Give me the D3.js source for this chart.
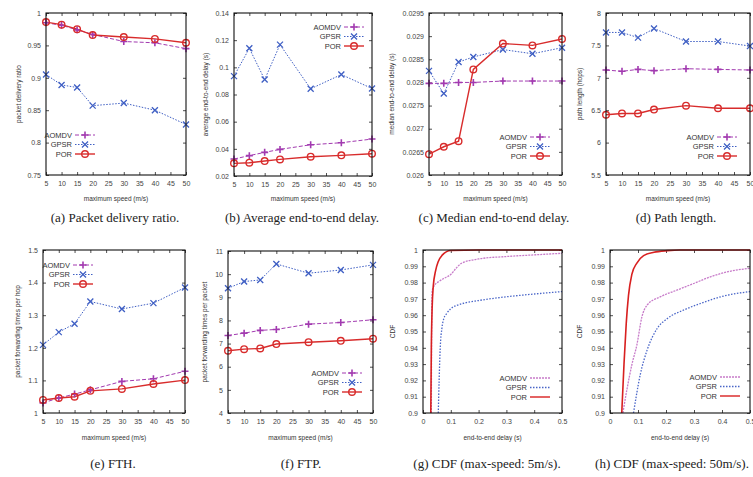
<!DOCTYPE html>
<html lang="en">
<head>
<meta charset="utf-8">
<title>POR vs AOMDV vs GPSR</title>
<script src="https://d3js.org/d3.v7.min.js"></script>
<style>
  body { margin: 0; background: #fff; }
  svg text { font-family: "Liberation Sans", Arial, sans-serif; fill: #333; }
  .caption { font-family: "Liberation Serif", "Times New Roman", serif; font-size: 13px; fill: #222; }
  .tick text { font-size: 7px; fill: #444; }
  .axtitle { font-size: 6.5px; fill: #333; }
  .legtext { font-size: 7.5px; fill: #333; }
</style>
</head>
<body>
<svg id="fig" width="753" height="477"></svg>
<script>
// --- data ---
var speeds = [5, 10, 15, 20, 30, 40, 50];
var speedTicks = [5, 10, 15, 20, 25, 30, 35, 40, 45, 50];
var protocols = ["AOMDV", "GPSR", "POR"];

// (a) packet delivery ratio
var pdrAOMDV = [0.985, 0.981, 0.974, 0.967, 0.956, 0.954, 0.945];
var pdrGPSR  = [0.905, 0.889, 0.885, 0.857, 0.861, 0.850, 0.828];
var pdrPOR   = [0.986, 0.982, 0.975, 0.966, 0.963, 0.960, 0.954];
var pdrTicks = [0.75, 0.8, 0.85, 0.9, 0.95, 1];

// (b) average end-to-end delay
var avgAOMDV = [0.0325, 0.035, 0.0374, 0.0396, 0.043, 0.0445, 0.0472];
var avgGPSR  = [0.0935, 0.114, 0.091, 0.1167, 0.0842, 0.0947, 0.0844];
var avgPOR   = [0.0293, 0.0298, 0.031, 0.0322, 0.0342, 0.0352, 0.0364];
var avgTicks = [0.02, 0.04, 0.06, 0.08, 0.1, 0.12, 0.14];

// (c) median end-to-end delay
var medAOMDV = [0.02798, 0.02798, 0.0280, 0.0280, 0.02803, 0.02803, 0.02803];
var medGPSR  = [0.02825, 0.02776, 0.02844, 0.02855, 0.02871, 0.02862, 0.02875];
var medPOR   = [0.02645, 0.02661, 0.02673, 0.02828, 0.02884, 0.0288, 0.02894];
var medTicks = [0.026, 0.0265, 0.027, 0.0275, 0.028, 0.0285, 0.029, 0.0295];

// (d) path length
var pathAOMDV = [7.12, 7.10, 7.13, 7.11, 7.14, 7.13, 7.12];
var pathGPSR  = [7.70, 7.70, 7.62, 7.76, 7.56, 7.56, 7.49];
var pathPOR   = [6.43, 6.45, 6.45, 6.51, 6.57, 6.53, 6.53];
var pathTicks = [5.5, 6, 6.5, 7, 7.5, 8];

// (e) FTH
var fthAOMDV = [1.031, 1.046, 1.058, 1.071, 1.097, 1.105, 1.128];
var fthGPSR  = [1.209, 1.248, 1.274, 1.342, 1.319, 1.337, 1.385];
var fthPOR   = [1.040, 1.046, 1.050, 1.068, 1.074, 1.089, 1.101];
var fthTicks = [1, 1.1, 1.2, 1.3, 1.4, 1.5];

// (f) FTP
var ftpAOMDV = [7.35, 7.45, 7.57, 7.61, 7.84, 7.91, 8.03];
var ftpGPSR  = [9.39, 9.68, 9.75, 10.44, 10.04, 10.18, 10.40];
var ftpPOR   = [6.69, 6.76, 6.79, 6.98, 7.06, 7.12, 7.21];
var ftpTicks = [4, 5, 6, 7, 8, 9, 10, 11];

// (g),(h) CDF of end-to-end delay, [delay, cdf]
var delayTicks = [0, 0.1, 0.2, 0.3, 0.4, 0.5];
var cdfTicks = [0.9, 0.91, 0.92, 0.93, 0.94, 0.95, 0.96, 0.97, 0.98, 0.99, 1];
var cdf5AOMDV = [[0.03,0.9],[0.031,0.95],[0.033,0.975],[0.04,0.978],[0.06,0.981],[0.08,0.983],[0.1,0.985],[0.12,0.989],[0.14,0.992],[0.2,0.9945],[0.3,0.996],[0.4,0.997],[0.5,0.998]];
var cdf5GPSR  = [[0.055,0.9],[0.058,0.92],[0.062,0.94],[0.068,0.952],[0.075,0.958],[0.085,0.961],[0.1,0.964],[0.13,0.9665],[0.15,0.9675],[0.2,0.969],[0.3,0.9713],[0.4,0.973],[0.5,0.9745]];
var cdf5POR   = [[0.028,0.9],[0.03,0.94],[0.033,0.965],[0.037,0.978],[0.045,0.987],[0.055,0.993],[0.07,0.997],[0.085,0.999],[0.1,0.9997],[0.2,1],[0.5,1]];
var cdf50AOMDV = [[0.046,0.9],[0.06,0.914],[0.078,0.9296],[0.096,0.9418],[0.114,0.959],[0.133,0.9663],[0.181,0.9714],[0.241,0.9755],[0.301,0.9796],[0.361,0.9837],[0.422,0.9867],[0.5,0.9888]];
var cdf50GPSR  = [[0.084,0.9],[0.108,0.9235],[0.133,0.9388],[0.169,0.952],[0.205,0.958],[0.265,0.9633],[0.325,0.9673],[0.398,0.9714],[0.5,0.9745]];
var cdf50POR   = [[0.042,0.9],[0.05,0.93],[0.058,0.955],[0.066,0.972],[0.078,0.985],[0.096,0.992],[0.12,0.9965],[0.157,0.9986],[0.205,0.9996],[0.25,1],[0.5,1]];

// --- styles per protocol ---
var colors = { AOMDV: "#a23ab0", GPSR: "#3f5fc4", POR: "#d82c2c" };
var dashes = { AOMDV: "4,2", GPSR: "1.5,1.5", POR: null };
var widths = { AOMDV: 1, GPSR: 1, POR: 1.4 };
var cdfColors = { AOMDV: "#c77bc9", GPSR: "#4a66c8", POR: "#d82020" };

function zip(xs, ys) { return xs.map(function(x, i) { return [x, ys[i]]; }); }

// panel layout (plot frame in px), cx = caption centre
var panels = [
  { id: "a", box: [46, 13, 186, 175], series: [pdrAOMDV, pdrGPSR, pdrPOR], yd: [0.75, 1], yt: pdrTicks,
    ytitle: "packet delivery ratio", yx: 21, leg: [95, 135], cx: 115, caption: "(a) Packet delivery ratio." },
  { id: "b", box: [234, 13, 372, 176], series: [avgAOMDV, avgGPSR, avgPOR], yd: [0.02, 0.14], yt: avgTicks,
    ytitle: "average end-to-end delay (s)", yx: 208, leg: [364, 27], cx: 302, caption: "(b) Average end-to-end delay." },
  { id: "c", box: [429, 13, 562, 175], series: [medAOMDV, medGPSR, medPOR], yd: [0.026, 0.0295], yt: medTicks,
    ytitle: "median end-to-end delay (s)", yx: 394, leg: [550, 137], cx: 494, caption: "(c) Median end-to-end delay." },
  { id: "d", box: [606, 13, 750, 175], series: [pathAOMDV, pathGPSR, pathPOR], yd: [5.5, 8], yt: pathTicks,
    ytitle: "path length (hops)", yx: 582, leg: [737, 137], cx: 676, caption: "(d) Path length." },
  { id: "e", box: [43, 250, 185, 413], series: [fthAOMDV, fthGPSR, fthPOR], yd: [1, 1.5], yt: fthTicks,
    ytitle: "packet forwarding times per hop", yx: 20, leg: [93, 265], cx: 113, caption: "(e) FTH." },
  { id: "f", box: [228, 251, 373, 413], series: [ftpAOMDV, ftpGPSR, ftpPOR], yd: [4, 11], yt: ftpTicks,
    ytitle: "packet forwarding times per packet", yx: 207, leg: [362, 373], cx: 301, caption: "(f) FTP." },
  { id: "g", cdf: true, box: [423, 250, 562, 413], series: [cdf5AOMDV, cdf5GPSR, cdf5POR], yd: [0.9, 1], yt: cdfTicks,
    ytitle: "CDF", yx: 395, leg: [550, 378], cx: 487, caption: "(g) CDF (max-speed: 5m/s)." },
  { id: "h", cdf: true, box: [610, 250, 750, 413], series: [cdf50AOMDV, cdf50GPSR, cdf50POR], yd: [0.9, 1], yt: cdfTicks,
    ytitle: "CDF", yx: 582, leg: [740, 377], cx: 672, caption: "(h) CDF (max-speed: 50m/s)." }
];

var svg = d3.select("#fig");

function marker(g, name, x, y, col) {
  if (name === "AOMDV") {
    g.append("path").attr("d", "M" + (x - 3.5) + "," + y + "h7M" + x + "," + (y - 3.5) + "v7")
      .attr("stroke", col).attr("stroke-width", 1.6).attr("fill", "none");
  } else if (name === "GPSR") {
    g.append("path").attr("d", "M" + (x - 3) + "," + (y - 3) + "l6,6M" + (x - 3) + "," + (y + 3) + "l6,-6")
      .attr("stroke", col).attr("stroke-width", 1.3).attr("fill", "none");
  } else {
    g.append("circle").attr("cx", x).attr("cy", y).attr("r", 3.3)
      .attr("stroke", col).attr("stroke-width", 1.4).attr("fill", "none");
  }
}

panels.forEach(function(p) {
  var x0 = p.box[0], y0 = p.box[1], x1 = p.box[2], y1 = p.box[3];
  var x = d3.scaleLinear().domain(p.cdf ? [0, 0.5] : [5, 50]).range([x0, x1]);
  var y = d3.scaleLinear().domain(p.yd).range([y1, y0]);
  var xt = p.cdf ? delayTicks : speedTicks;
  var g = svg.append("g").attr("class", "panel-" + p.id);

  // axes with inward ticks, mirrored
  var fmt = function(v) { return String(+v.toPrecision(6)); };
  g.append("g").attr("transform", "translate(0," + y1 + ")")
    .call(d3.axisBottom(x).tickValues(xt).tickFormat(fmt).tickSizeInner(-3).tickSizeOuter(0).tickPadding(6));
  g.append("g").attr("transform", "translate(0," + y0 + ")")
    .call(d3.axisTop(x).tickValues(xt).tickFormat("").tickSizeInner(-3).tickSizeOuter(0));
  g.append("g").attr("transform", "translate(" + x0 + ",0)")
    .call(d3.axisLeft(y).tickValues(p.yt).tickFormat(fmt).tickSizeInner(-3).tickSizeOuter(0).tickPadding(5));
  g.append("g").attr("transform", "translate(" + x1 + ",0)")
    .call(d3.axisRight(y).tickValues(p.yt).tickFormat("").tickSizeInner(-3).tickSizeOuter(0));
  g.selectAll(".domain").remove();
  g.selectAll(".tick line").attr("stroke", "#222").attr("stroke-width", 0.8);

  var clipId = "clip-" + p.id;
  g.append("clipPath").attr("id", clipId).append("rect")
    .attr("x", x0).attr("y", y0 - 1).attr("width", x1 - x0).attr("height", y1 - y0 + 1);
  var plot = g.append("g").attr("clip-path", "url(#" + clipId + ")");

  p.series.forEach(function(vals, k) {
    var name = protocols[k];
    var pts = p.cdf ? vals : zip(speeds, vals);
    var col = p.cdf ? cdfColors[name] : colors[name];
    var line = d3.line().x(function(d) { return x(d[0]); }).y(function(d) { return y(d[1]); });
    if (p.cdf) line.curve(d3.curveMonotoneX);
    plot.append("path").datum(pts).attr("d", line)
      .attr("fill", "none").attr("stroke", col)
      .attr("stroke-width", p.cdf ? (name === "POR" ? 1.6 : 1.3) : widths[name])
      .attr("stroke-dasharray", p.cdf && name === "AOMDV" ? "2,1" : dashes[name]);
    if (!p.cdf) {
      pts.forEach(function(d) { marker(g, name, x(d[0]), y(d[1]), col); });
    }
  });

  // frame
  g.append("rect").attr("x", x0).attr("y", y0).attr("width", x1 - x0).attr("height", y1 - y0)
    .attr("fill", "none").attr("stroke", "#111").attr("stroke-width", 1.1);

  // legend
  protocols.forEach(function(name, k) {
    var ly = p.leg[1] + k * 9.5, lx = p.leg[0];
    var col = p.cdf ? cdfColors[name] : colors[name];
    g.append("text").attr("class", "legtext").attr("x", lx - 23).attr("y", ly + 2.6)
      .attr("text-anchor", "end").text(name);
    g.append("line").attr("x1", lx - 20).attr("x2", lx).attr("y1", ly).attr("y2", ly)
      .attr("stroke", col).attr("stroke-width", p.cdf ? 1.4 : widths[name])
      .attr("stroke-dasharray", p.cdf && name === "AOMDV" ? "2,1" : dashes[name]);
    if (!p.cdf) marker(g, name, lx - 10, ly, col);
  });

  // titles
  var top = y0 < 100;
  g.append("text").attr("class", "axtitle").attr("x", (x0 + x1) / 2).attr("y", top ? 201 : 440)
    .attr("text-anchor", "middle").text(p.cdf ? "end-to-end delay (s)" : "maximum speed (m/s)");
  g.append("text").attr("class", "axtitle").attr("text-anchor", "middle")
    .attr("transform", "translate(" + p.yx + "," + ((y0 + y1) / 2) + ") rotate(-90)").text(p.ytitle);
  g.append("text").attr("class", "caption").attr("x", p.cx).attr("y", top ? 222 : 468)
    .attr("text-anchor", "middle").text(p.caption);
});
</script>
</body>
</html>
